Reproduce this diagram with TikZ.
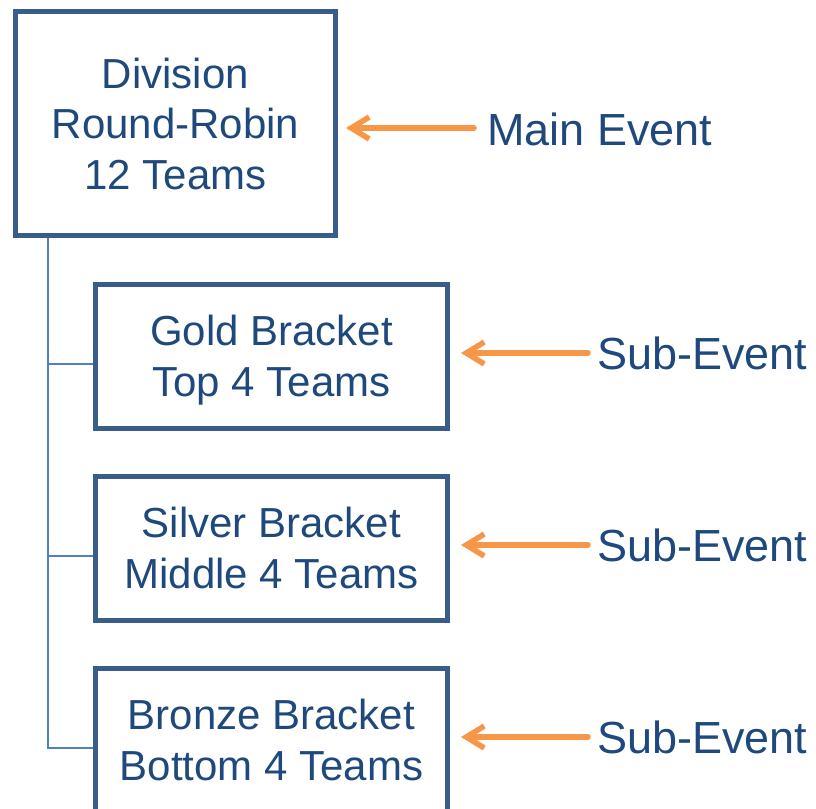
\documentclass[tikz,border=0pt]{standalone}
\usepackage{fontspec}
\setmainfont{Liberation Sans}
\usetikzlibrary{arrows.meta}
\definecolor{textblue}{HTML}{1F497D}
\definecolor{boxblue}{HTML}{385D8A}
\definecolor{linkblue}{HTML}{4F81BD}
\definecolor{eventorange}{HTML}{F79646}
\begin{document}
\begin{tikzpicture}[x=1pt,y=-1pt,
	bracket/.style={draw=boxblue,line width=5pt,text=textblue,align=center,inner sep=0pt,text depth=0pt,font=\fontsize{42}{50.5}\selectfont},
	event/.style={text=textblue,inner sep=0pt,anchor=base west,font=\fontsize{45}{54}\selectfont},
	link/.style={draw=linkblue,line width=1.5pt},
	pointer/.style={draw=eventorange,line width=5.5pt,line cap=round,line join=round,-{Straight Barb[length=18pt,width=22pt]}}]
		\path[use as bounding box,clip] (0,0) rectangle (816,808);
		\node[bracket,minimum width=320pt,minimum height=223.5pt] (division) at (175.5,123.75) {Division\\Round-Robin\\12 Teams};
		\node[bracket,minimum width=352pt,minimum height=144pt] (gold) at (271.5,356) {Gold Bracket\\Top 4 Teams};
		\node[bracket,minimum width=352pt,minimum height=144pt] (silver) at (271.5,548) {Silver Bracket\\Middle 4 Teams};
		\node[bracket,minimum width=352pt,minimum height=144pt] (bronze) at (271.5,740) {Bronze Bracket\\Bottom 4 Teams};
		\node[event] (mainevent) at (487,145) {Main Event};
		\node[event] (goldevent) at (597,369.5) {Sub-Event};
		\node[event] (silverevent) at (597,561.5) {Sub-Event};
		\node[event] (bronzeevent) at (597,753.5) {Sub-Event};
		\coordinate (trunk) at (48,0);
		\draw[link] (trunk |- division.south) |- ([yshift=-8pt]bronze.west);
		\draw[link] ([yshift=-8pt]gold.west -| trunk) -- ([yshift=-8pt]gold.west);
		\draw[link] ([yshift=-8pt]silver.west -| trunk) -- ([yshift=-8pt]silver.west);
		\draw[pointer,shorten <=13pt,shorten >=8pt] ([yshift=17pt]mainevent.base west) -- ([yshift=17pt]mainevent.base west -| division.east);
		\draw[pointer,shorten <=9pt,shorten >=11pt] ([yshift=16.5pt]goldevent.base west) -- ([yshift=16.5pt]goldevent.base west -| gold.east);
		\draw[pointer,shorten <=9pt,shorten >=11pt] ([yshift=16.5pt]silverevent.base west) -- ([yshift=16.5pt]silverevent.base west -| silver.east);
		\draw[pointer,shorten <=9pt,shorten >=11pt] ([yshift=16.5pt]bronzeevent.base west) -- ([yshift=16.5pt]bronzeevent.base west -| bronze.east);
\end{tikzpicture}
\end{document}
